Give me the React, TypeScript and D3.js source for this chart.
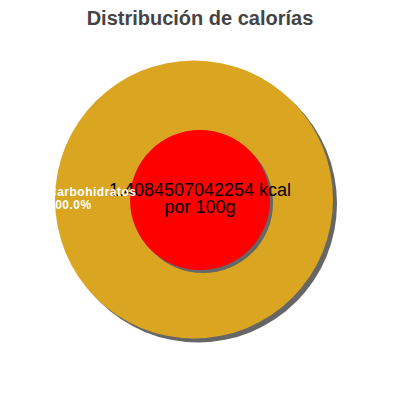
import React, { useEffect, useRef } from 'react';
import * as d3 from 'd3';

const labels = ['Carbohidratos'];
const values = [100];
const colors = ['#DAA520'];
const centerLines = ['1.4084507042254 kcal', 'por 100g'];
const title = 'Distribución de calorías';

const width = 400;
const height = 400;

const App: React.FC = () => {
  const svgRef = useRef<SVGSVGElement>(null);

  useEffect(() => {
    if (!svgRef.current) return;
    const svg = d3.select(svgRef.current);
    svg.selectAll('*').remove();

    const data = labels.map((label, i) => ({ label, value: values[i], color: colors[i] }));
    const total = d3.sum(values);

    const cx = 194;
    const cy = 199.5;
    const radius = 139;
    const innerR = 70;

    // Title
    svg
      .append('text')
      .attr('x', width / 2)
      .attr('y', 25)
      .attr('text-anchor', 'middle')
      .style('font-family', '"Liberation Sans", Arial, sans-serif')
      .style('font-size', '20px')
      .style('font-weight', 'bold')
      .style('fill', '#444')
      .text(title);

    const g = svg.append('g').attr('transform', `translate(${cx},${cy})`);

    const pie = d3
      .pie<{ label: string; value: number; color: string }>()
      .value(d => d.value)
      .sort(null);

    const arc = d3
      .arc<d3.PieArcDatum<{ label: string; value: number; color: string }>>()
      .innerRadius(0)
      .outerRadius(radius);

    const arcs = pie(data);

    // Shadow
    g.append('g')
      .attr('transform', 'translate(4,4)')
      .selectAll('path')
      .data(arcs)
      .enter()
      .append('path')
      .attr('d', arc)
      .attr('fill', '#666');

    g.selectAll('.slice')
      .data(arcs)
      .enter()
      .append('path')
      .attr('class', 'slice')
      .attr('d', arc)
      .attr('fill', d => d.data.color);

    // Center circle
    const center = svg.append('g').attr('transform', `translate(${width / 2},${height / 2})`);
    center.append('circle').attr('cx', 3).attr('cy', 3).attr('r', innerR).attr('fill', '#666');
    center.append('circle').attr('r', innerR).attr('fill', '#FF0000');

    const ct = center
      .append('text')
      .attr('text-anchor', 'middle')
      .style('font-family', '"Liberation Sans", Arial, sans-serif')
      .style('font-size', '18px')
      .style('fill', 'black');
    centerLines.forEach((line, i) => {
      ct.append('tspan')
        .attr('x', 0)
        .attr('y', -4.5 + i * 17.5)
        .text(line);
    });

    // Slice labels (drawn on top of everything)
    const lbl = svg
      .append('g')
      .attr('transform', `translate(${cx},${cy})`)
      .selectAll('.lbl')
      .data(arcs)
      .enter()
      .append('text')
      .attr('class', 'lbl')
      .attr('x', -radius - 7)
      .attr('y', -3.5)
      .style('font-family', '"Liberation Sans", Arial, sans-serif')
      .style('font-size', '12px')
      .style('font-weight', 'bold')
      .style('letter-spacing', '0.5px')
      .style('fill', 'white');
    lbl.append('tspan').text(d => d.data.label);
    lbl
      .append('tspan')
      .attr('x', -radius - 7)
      .attr('dy', 13)
      .text(d => `${((d.data.value / total) * 100).toFixed(1)}%`);
  }, []);

  return <svg ref={svgRef} width={width} height={height} style={{ display: 'block', margin: -8 }} />;
};

export default App;
